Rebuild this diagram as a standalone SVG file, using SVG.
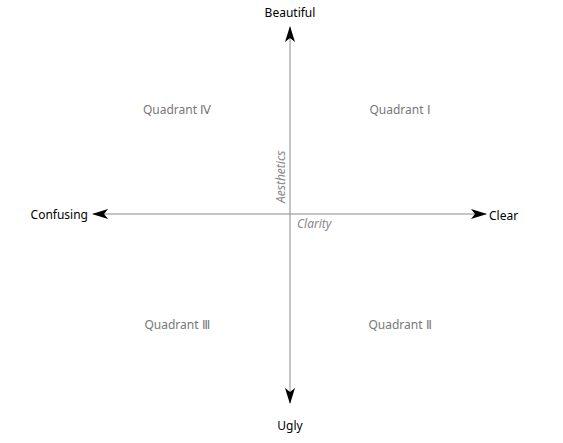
<svg xmlns="http://www.w3.org/2000/svg" width="563" height="443" viewBox="0 0 563 443">
<style>
.ax{stroke:#8a8a8a;stroke-width:1;fill:none}
.t{font-family:"Noto Sans","Open Sans",sans-serif;font-size:12px;fill:#000}
.q{font-family:"Noto Sans","Open Sans",sans-serif;font-size:12px;fill:#777}
.i{font-family:"Noto Sans","Open Sans",sans-serif;font-size:12px;fill:#888;font-style:italic}
</style>
<defs>
<marker id="ah" viewBox="0 0 16 10" refX="15" refY="5" markerWidth="16" markerHeight="10" markerUnits="userSpaceOnUse" orient="auto">
<path d="M0,0 L16,5 L0,10 L4,5 Z" fill="#000"/>
</marker>
</defs>
<rect width="563" height="443" fill="#fff"/>
<g id="connectors">
<line class="ax" x1="290" y1="214" x2="290" y2="27" marker-end="url(#ah)"/>
<line class="ax" x1="290" y1="214" x2="290" y2="403" marker-end="url(#ah)"/>
<line class="ax" x1="290" y1="214" x2="486" y2="214" marker-end="url(#ah)"/>
<line class="ax" x1="290" y1="214" x2="93" y2="214" marker-end="url(#ah)"/>
</g>
<g id="beautiful"><text class="t" x="290" y="17" text-anchor="middle">Beautiful</text></g>
<g id="ugly"><text class="t" x="290" y="430" text-anchor="middle">Ugly</text></g>
<g id="confusing"><text class="t" x="88" y="219" text-anchor="end">Confusing</text></g>
<g id="clear"><text class="t" x="489" y="220">Clear</text></g>
<g id="q1"><text class="q" x="400" y="114" text-anchor="middle">Quadrant Ⅰ</text></g>
<g id="q2"><text class="q" x="400" y="329" text-anchor="middle">Quadrant Ⅱ</text></g>
<g id="q3"><text class="q" x="177" y="329" text-anchor="middle">Quadrant Ⅲ</text></g>
<g id="q4"><text class="q" x="177" y="114" text-anchor="middle">Quadrant Ⅳ</text></g>
<g id="aesthetics"><text class="i" x="0" y="0" transform="translate(285,203) rotate(-90)">Aesthetics</text></g>
<g id="clarity"><text class="i" x="297" y="228">Clarity</text></g>
</svg>
